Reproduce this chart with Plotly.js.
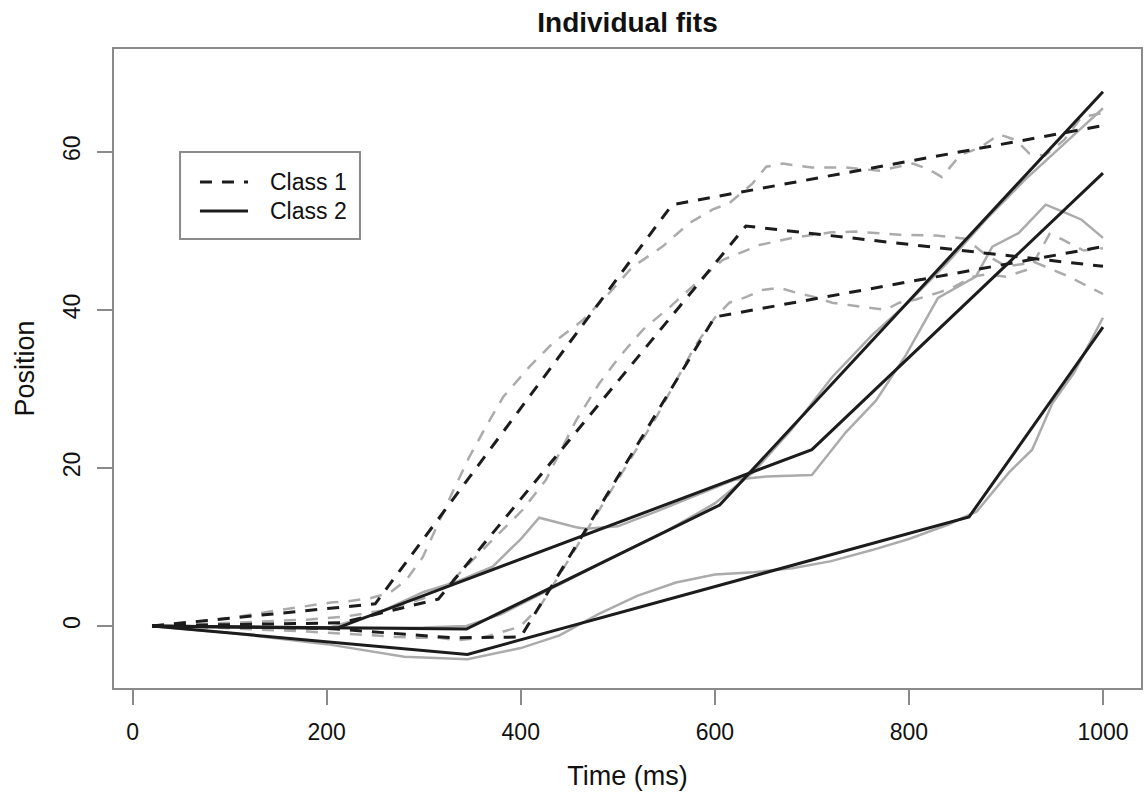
<!DOCTYPE html>
<html>
<head>
<meta charset="utf-8">
<script src="https://cdn.plot.ly/plotly-3.0.1.min.js"></script>
<style>html,body{margin:0;padding:0;background:#fff;}#chart{width:1144px;height:806px;}</style>
</head>
<body>
<div id="chart"></div>
<script>
// ---- Fitted piecewise-linear curves (black) ----
// Class 1 (dashed)
const fitA_t = [20, 250, 556, 1000];
const fitA_y = [0, 2.8, 53.3, 63.3];
const fitB_t = [20, 215, 315, 632, 1000];
const fitB_y = [0, 0.4, 3.4, 50.6, 45.5];
const fitC_t = [20, 200, 330, 400, 600, 1000];
const fitC_y = [0, -0.3, -1.5, -1.4, 39.1, 48];
// Class 2 (solid)
const fitE_t = [20, 344, 605, 1000];
const fitE_y = [0, -0.4, 15.3, 67.6];
const fitF_t = [20, 210, 700, 1000];
const fitF_y = [0, -0.3, 22.3, 57.3];
const fitG_t = [20, 345, 862, 1000];
const fitG_y = [0, -3.6, 13.8, 37.8];

// ---- Observed curves (grey) ----
// Class 1 (dashed)
const obsA_t = [20,60,100,140,180,206,220,245,265,282,299,313,330,347,364,382,409,433,464,491,515,546,574,598,615,639,653,670,700,735,770,804,820,834,853,873,893,910,924,940,960,978,1000];
const obsA_y = [0,0.5,1,1.8,2.5,3,3.1,3.5,4.2,5.8,8.7,12.5,17,21.4,25.2,29,32.8,35.8,38.7,42.1,45.4,48,51,52.7,53.5,56,58.1,58.5,58,58,57.6,58.5,57.8,56.8,59.6,60.5,62.2,61.5,59.8,59.5,61.5,64.4,64.9];
const obsB_t = [20,60,100,140,180,220,260,300,330,371,402,426,457,481,502,526,555,581,608,646,680,720,746,790,828,858,879,900,930,965,1000];
const obsB_y = [0,0.2,0.4,0.6,0.8,1.2,2,3.5,5.8,10.9,14.7,18.5,26,30.7,34.1,37.5,40.5,43.4,46.3,48.2,49.1,49.8,49.9,49.5,49.4,49,47,45.5,46,44.2,42];
const obsC_t = [20,60,100,140,180,220,260,290,316,334,360,389,399,420,440,460,481,500,520,540,560,580,600,615,632,649,666,683,700,721,738,756,776,790,807,831,845,866,880,900,925,945,958,980,1000];
const obsC_y = [0,-0.1,-0.3,-0.5,-0.7,-1,-1.3,-1.5,-1.5,-1.8,-1.5,-0.5,-0.1,2.5,6.5,10.5,14.7,18.5,22.5,26.5,31,35.5,39,40.9,41.6,42.5,42.8,42.2,41.7,40.9,40.6,40.3,40,40.9,41.3,42.2,42.8,44.2,44.5,44.2,45.2,49.6,48.9,47.5,47.8];
// Class 2 (solid)
const obsE_t = [20,100,200,300,344,380,420,460,500,550,600,640,680,721,762,800,840,880,920,960,1000];
const obsE_y = [0,-0.2,-0.3,-0.2,0,1.5,4,6.5,9,12,15.5,19.5,25,31.5,36.8,41,46,51.5,56.5,61,65.5];
const obsF_t = [20,100,200,250,300,334,371,400,419,440,457,467,500,540,580,620,653,680,700,735,766,797,821,830,869,886,913,941,961,978,1000];
const obsF_y = [0,-0.2,-0.3,1.5,4.3,5.6,7.5,11,13.7,13,12.5,12.3,12.6,14.5,16.5,18.5,18.9,19,19.1,24.5,28.5,34.3,39.6,41.5,44.2,48,49.7,53.3,52.3,51.4,49.1];
const obsG_t = [20,100,200,280,345,400,440,480,520,560,600,640,680,720,762,800,840,870,903,927,948,970,1000];
const obsG_y = [0,-0.9,-2.3,-3.9,-4.2,-2.8,-1.2,1.5,3.8,5.5,6.5,6.8,7.3,8.2,9.6,11,12.8,14.5,19.4,22.3,28.2,32,39];

const xTicks = [0, 200, 400, 600, 800, 1000];
const yTicks = [0, 20, 40, 60];
const classNames = ['Class 1', 'Class 2'];

const BLACK = '#1c1c1c';
const GREY = '#ababab';
const DASH = '12px,10px';
const FRAME = '#8a8a8a';

function obs(t, y, dashed) {
  return {x: t, y: y, type: 'scatter', mode: 'lines', showlegend: false, hoverinfo: 'skip',
          line: {color: GREY, width: 2.5, dash: dashed ? DASH : 'solid'}};
}
function fit(t, y, dashed, name) {
  return {x: t, y: y, type: 'scatter', mode: 'lines', name: name, showlegend: false,
          line: {color: BLACK, width: 3, dash: dashed ? DASH : 'solid'}};
}

const data = [
  obs(obsA_t, obsA_y, true), obs(obsB_t, obsB_y, true), obs(obsC_t, obsC_y, true),
  obs(obsE_t, obsE_y, false), obs(obsF_t, obsF_y, false), obs(obsG_t, obsG_y, false),
  fit(fitA_t, fitA_y, true, classNames[0]),
  fit(fitB_t, fitB_y, true, classNames[0]),
  fit(fitC_t, fitC_y, true, classNames[0]),
  fit(fitE_t, fitE_y, false, classNames[1]),
  fit(fitF_t, fitF_y, false, classNames[1]),
  fit(fitG_t, fitG_y, false, classNames[1])
];

const FONT = 'Liberation Sans, Arial, Helvetica, sans-serif';
const axisCommon = {
  showgrid: false, zeroline: false, showline: true, mirror: true,
  linecolor: FRAME, linewidth: 2,
  ticks: 'outside', ticklen: 15, tickwidth: 2, tickcolor: FRAME,
  tickfont: {family: FONT, size: 23, color: '#111'}
};

// Legend drawn in the R style (paper coordinates of the plot area)
const legBox = {x0: 0.0643, x1: 0.2395, y0: 0.7027, y1: 0.8388};
const legRows = [0.7919, 0.7465];
const legLine = {x0: 0.0837, x1: 0.1305};
const legTextX = 0.150;

const shapes = [
  {type: 'rect', xref: 'paper', yref: 'paper', x0: legBox.x0, x1: legBox.x1, y0: legBox.y0, y1: legBox.y1,
   line: {color: FRAME, width: 2}, fillcolor: '#fff', layer: 'above'},
  {type: 'line', xref: 'paper', yref: 'paper', x0: legLine.x0, x1: legLine.x1, y0: legRows[0], y1: legRows[0],
   line: {color: BLACK, width: 3, dash: DASH}, layer: 'above'},
  {type: 'line', xref: 'paper', yref: 'paper', x0: legLine.x0, x1: legLine.x1, y0: legRows[1], y1: legRows[1],
   line: {color: BLACK, width: 3}, layer: 'above'}
];
const annotations = classNames.map((n, i) => ({
  text: n, xref: 'paper', yref: 'paper', x: legTextX, y: legRows[i], xanchor: 'left', yanchor: 'middle',
  showarrow: false, font: {family: FONT, size: 23, color: '#111'}
}));

const layout = {
  width: 1144, height: 806,
  margin: {l: 114, r: 3, t: 49, b: 118},
  paper_bgcolor: '#fff', plot_bgcolor: '#fff',
  font: {family: FONT, color: '#111'},
  showlegend: false,
  title: {text: '<b>Individual fits</b>', font: {family: FONT, size: 28, color: '#111'},
          x: 0.5, xref: 'paper', xanchor: 'center', y: 0.973, yref: 'container', yanchor: 'middle'},
  xaxis: Object.assign({}, axisCommon, {
    range: [-19.2, 1039.2], tickvals: xTicks, ticktext: xTicks.map(String),
    ticklabelstandoff: 7,
    title: {text: 'Time (ms)', font: {family: FONT, size: 27, color: '#111'}, standoff: 23}
  }),
  yaxis: Object.assign({}, axisCommon, {
    range: [-7.85, 73], tickvals: yTicks, ticktext: yTicks.map(String),
    tickangle: -90, ticklabelstandoff: 8,
    title: {text: 'Position', font: {family: FONT, size: 27, color: '#111'}, standoff: 16}
  }),
  shapes: shapes,
  annotations: annotations
};

Plotly.newPlot('chart', data, layout, {staticPlot: true, displayModeBar: false});
</script>
</body>
</html>
